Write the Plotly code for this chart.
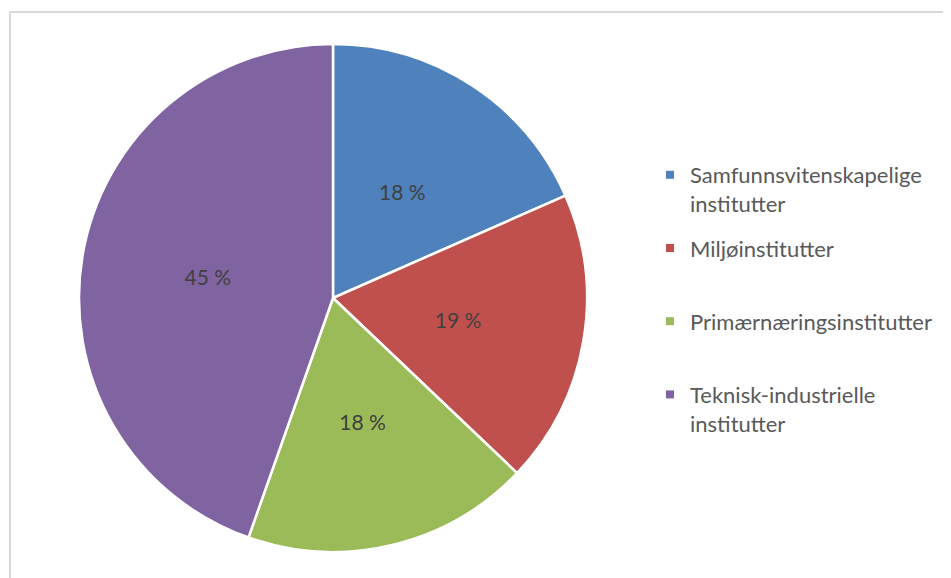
import plotly.graph_objects as go

categories = ["Samfunnsvitenskapelige<br>institutter", "Miljøinstitutter<br> ",
              "Primærnæringsinstitutter<br> ", "Teknisk-industrielle<br>institutter"]
values = [18.4, 18.7, 18.3, 44.6]
value_labels = ["18 %", "19 %", "18 %", "45 %"]
colors = ["#4F81BD", "#C0504D", "#9BBB59", "#8064A2"]

OFF = 8            # page body margin
FW, FH = 943, 570  # figure size


def xp(sx):
    return (sx - OFF) / FW


def yp(sy):
    return 1 - (sy - OFF) / FH


# pie geometry (screen px)
CX, CY, R = 333, 298, 254
HOLE = 0.3
R2 = 0.5 * R * 2 / (1 + HOLE)  # label ring radius so labels sit at R/2

fig = go.Figure()
fig.add_trace(go.Pie(
    labels=categories, values=values,
    textinfo="none", sort=False, direction="clockwise", rotation=0,
    marker=dict(colors=colors, line=dict(color="white", width=2.5)),
    showlegend=False, hoverinfo="label+percent",
    domain=dict(x=[xp(CX - R), xp(CX + R)], y=[yp(CY + R), yp(CY - R)]),
))
# transparent overlay pie that carries the percentage labels
fig.add_trace(go.Pie(
    labels=categories, values=values, text=value_labels, hole=HOLE,
    textinfo="text", textposition="inside", insidetextorientation="horizontal",
    sort=False, direction="clockwise", rotation=0,
    marker=dict(colors=["rgba(0,0,0,0)"] * 4, line=dict(width=0)),
    textfont=dict(family="Lato", size=21, color="#404040"),
    showlegend=False, hoverinfo="skip",
    domain=dict(x=[xp(CX - R2), xp(CX + R2)], y=[yp(CY + R2), yp(CY - R2)]),
))
for i, (cat, col) in enumerate(zip(categories, colors)):
    fig.add_trace(go.Scatter(
        x=[None], y=[None], mode="markers", name=cat,
        marker=dict(symbol="square", size=8, color=col),
        legendgroup=str(i), showlegend=True, hoverinfo="skip",
    ))

fig.update_layout(
    width=FW, height=FH, autosize=False,
    margin=dict(l=0, r=0, t=0, b=0),
    paper_bgcolor="white", plot_bgcolor="white",
    xaxis=dict(visible=False), yaxis=dict(visible=False),
    legend=dict(x=642 / FW, y=1 - 146 / FH, xanchor="left", yanchor="top",
                valign="top", tracegroupgap=13, itemwidth=30,
                font=dict(family="Lato", size=22, color="#595959"),
                bgcolor="rgba(0,0,0,0)"),
    shapes=[dict(type="rect", xref="paper", yref="paper",
                 x0=xp(10), x1=1.2, y0=-0.2, y1=yp(12),
                 line=dict(color="#d9d9d9", width=2), fillcolor="rgba(0,0,0,0)",
                 layer="below")],
)
fig.write_html("out.html")
